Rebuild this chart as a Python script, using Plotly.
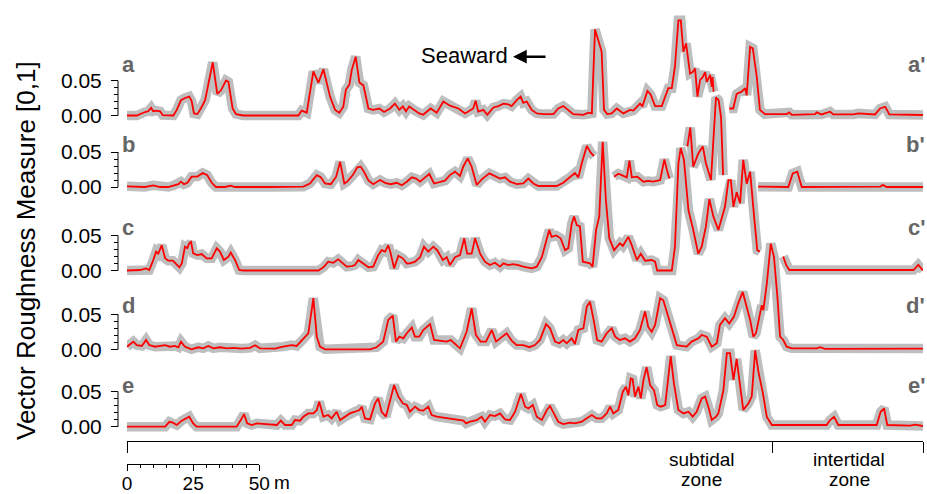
import plotly.graph_objects as go

# ---------------- data (distance along transect in m, VRM value) ----------------
profile_labels = ["a", "b", "c", "d", "e"]
profile_labels_end = ["a'", "b'", "c'", "d'", "e'"]

dist_a = [0, 3.7, 6.8, 8.0, 9.1, 9.9, 11.0, 12.5, 13.5, 17.5, 18.8, 20.4, 21.9, 23.5, 24.4, 25.3, 26.6, 27.9, 29.5, 32.4,
          34.1, 35.5, 37.4, 38.3, 39.9, 41.2, 43.9, 64.7, 66.0, 67.9, 70.4, 72.3, 74.2, 76.7, 78.6, 80.2, 81.7, 82.7, 84.0,
          84.9, 86.4, 87.8, 89.3, 91.2, 93.0, 95.3, 97.1, 99.4, 101.2, 102.9, 104.2, 105.4, 106.6, 108.8, 110.4, 111.9,
          114.7, 117.0, 119.5, 122.0, 125.2, 127.7, 130.8, 131.7, 132.7, 134.6, 136.1, 138.4, 140.3, 142.2, 144.0, 145.3,
          147.2, 148.7, 149.7, 151.0, 152.9, 154.8, 157.3, 161.1, 162.9, 164.8, 166.7, 168.6, 172.4, 174.3, 175.6, 176.8,
          178.4, 179.3, 180.2, 181.4, 183.1, 185.0, 187.5, 190.0, 191.3, 193.8, 194.7, 196.6, 197.8, 199.5, 202.0, 204.5,
          205.8, 207.0, 208.3, 209.2, 210.2, 211.2, 212.7, 213.7, 214.6, 215.5, 216.5, 217.5, 218.4, 219.0, 220.3, 220.9,
          221.2, 221.6, 224.5, 227.5, 229.0, 230.3, 232.2, 233.5, 234.1, 235.4, 236.4, 237.9, 239.1, 241.0, 249.2, 250.2,
          251.1, 259.9, 260.6, 262.4, 265.6, 266.8, 274.4, 276.3, 282.6, 284.5, 286.4, 288.0, 300.7]
vrm_a = [0, 0, 0.005, 0.006, 0.011, 0.006, 0.007, 0.006, 0.0005, 0, 0.008, 0.022, 0.025, 0.027, 0.021, 0.003, 0.002, 0.010,
         0.022, 0.076, 0.031, 0.036, 0.050, 0.048, 0.010, 0.002, 0, 0, 0.007, 0.004, 0.063, 0.047, 0.066, 0.027, 0.008,
         0.004, 0.0126, 0.037, 0.044, 0.065, 0.084, 0.047, 0.043, 0.010, 0.008, 0.010, 0.005, 0.010, 0.017, 0.008, 0.013,
         0.006, 0.013, 0.007, 0.003, 0.001, 0.010, 0.004, 0.020, 0.014, 0.010, 0.003, 0.010, 0.021, 0.0055, 0.008, 0.001,
         0.0115, 0.0135, 0.017, 0.016, 0.0135, 0.022, 0.027, 0.018, 0.020, 0.008, 0.003, 0.002, 0.002, 0.010, 0.0135,
         0.008, 0.002, 0.001, 0.004, 0.003, 0.123, 0.103, 0.091, 0.008, 0.002, 0.003, 0.010, 0.003, 0.008, 0.007, 0.017,
         0.013, 0.035, 0.030, 0.0135, 0.0135, 0.039, 0.039, 0.070, 0.136, 0.136, 0.091, 0.103, 0.060, 0.062, 0.067, 0.027,
         0.051, 0.055, 0.062, 0.048, 0.058, 0.041, 0.055, 0.034, None, 0.010, 0.010, 0.031, 0.034, 0.039, 0.029, 0.098,
         0.096, 0.055, 0.008, 0.002, 0.002, 0.0045, 0.001, 0.002, 0.0045, 0.0015, 0.0055, 0.0015, 0.0015, 0.003, 0.0015,
         0.010, 0.0125, 0.0015, 0.0007]

dist_b = [0, 3.7, 6.8, 9.9, 12.5, 15.6, 17.5, 19.4, 20.4, 21.5, 22.8, 24.4, 26.6, 28.6, 30.3, 32.0, 33.6, 37.0, 39.2, 40.8,
          54.0, 61.6, 66.6, 69.1, 71.7, 73.2, 74.8, 77.0, 79.0, 80.5, 82.1, 83.2, 85.3, 87.0, 88.3, 89.5, 91.2, 93.0, 95.6,
          97.5, 99.6, 101.9, 103.8, 105.7, 107.6, 109.2, 110.7, 112.6, 114.2, 116.0, 118.2, 120.1, 122.0, 123.9, 125.8,
          127.0, 128.7, 130.2, 132.1, 134.0, 136.9, 139.0, 140.9, 142.8, 144.7, 147.2, 149.7, 151.6, 153.5, 155.4, 162.3,
          164.8, 167.4, 169.2, 170.5, 171.8, 173.7, 175.2, 176.4, 180.0, 184.0, 185.6, 186.9, 188.8, 189.8, 190.7, 192.8,
          195.1, 196.9, 198.8, 201.4, 203.0, 204.1, 204.9, 208.0, 211.7, 212.8, 213.9, 215.8, 217.5, 218.7, 220.6, 222.5,
          223.5, 224.4, 225.2, 230.0, 238.4, 249.8, 251.5, 253.2, 254.9, 284.5, 285.5, 287.0, 300.7]
vrm_b = [0.001, 0, 0, 0.0024, 0, 0, 0.002, 0.004, 0.0076, 0.004, 0.006, 0.0147, 0.015, 0.020, 0.017, 0.006, 0, 0, 0.002, 0,
         0, 0.0005, 0.0005, 0.005, 0.017, 0.014, 0.005, 0.004, 0.0147, 0.036, 0.005, 0.0076, 0.017, 0.028, 0.029, 0.022,
         0.0095, 0.004, 0.010, 0.006, 0.004, 0.006, 0.0024, 0.0076, 0.0138, 0.012, 0.0076, 0.0138, 0.0186, 0.005, 0.0076,
         0.009, 0.017, 0.0219, 0.0157, 0.029, 0.041, 0.029, 0.003, 0.011, 0.0195, 0.0157, 0.012, 0.0138, 0.0076, 0.004,
         0.005, 0.012, 0.005, 0.0014, 0.0014, 0.006, 0.0138, 0.020, 0.0138, 0.034, 0.0586, 0.049, 0.044, None, 0.0147,
         0.019, 0.017, 0.0138, 0.0376, 0.0138, 0.0147, 0.0076, 0.0086, 0.0076, 0.010, 0.0395, 0.022, 0.012, None, 0.058,
         0.085, 0.029, 0.048, 0.058, 0.034, 0.010, 0.128, 0.124, 0.10, 0.017, None, 0.0005, 0, 0.0195, 0.022, 0, 0.0005,
         0.003, 0, 0]

dist_c = [0, 4.9, 7.2, 8.4, 9.7, 11.0, 11.8, 13.1, 14.4, 15.6, 17.3, 18.8, 19.8, 20.7, 21.9, 22.8, 23.5, 24.2, 25.0, 26.6,
          28.2, 30.1, 32.0, 33.9, 35.1, 36.6, 38.3, 39.2, 40.8, 42.4, 43.9, 72.3, 74.2, 76.0, 77.9, 79.8, 81.7, 83.0, 84.9,
          86.1, 87.4, 89.3, 91.2, 93.0, 94.9, 96.2, 97.5, 98.7, 99.6, 100.9, 102.5, 104.2, 105.7, 106.9, 108.8, 110.7,
          112.2, 113.8, 115.7, 117.2, 119.3, 120.8, 122.0, 123.9, 125.8, 127.4, 128.5, 130.2, 131.5, 133.4, 135.2, 137.1,
          139.0, 140.9, 142.2, 144.0, 145.9, 147.8, 149.7, 152.9, 154.8, 156.7, 159.5, 160.4, 162.1, 163.8, 165.5, 166.7,
          168.0, 168.9, 169.9, 171.1, 172.2, 174.9, 175.9, 177.2, 178.4, 179.7, 180.9, 182.2, 184.0, 186.2, 187.3, 189.4,
          190.7, 192.6, 194.1, 195.7, 198.2, 199.5, 200.3, 205.8, 207.0, 208.3, 209.2, 210.4, 212.1, 213.9, 215.8, 217.1,
          218.7, 220.0, 221.5, 223.4, 225.9, 227.2, 228.1, 229.1, 230.3, 231.6, 232.8, 234.1, 235.4, 236.9, 238.1, 239.1,
          243.0, 247.9, 249.0, 250.2, 297.1, 298.9, 300.7]
vrm_c = [0, 0.0007, 0.003, 0.0007, 0.0126, 0.027, 0.024, 0.036, 0.0174, 0.014, 0.014, 0.0078, 0.0045, 0.010, 0.034, 0.032,
         0.039, 0.041, 0.0245, 0.022, 0.0235, 0.0174, 0.0174, 0.0317, 0.027, 0.015, 0.0198, 0.0255, 0.015, 0.0007, 0, 0,
         0.0045, 0.0126, 0.011, 0.016, 0.010, 0.0055, 0.0064, 0.0078, 0.015, 0.010, 0.0045, 0.0055, 0.022, 0.029, 0.027,
         0.036, 0.0245, 0.003, 0.021, 0.0174, 0.010, 0.0102, 0.0126, 0.019, 0.034, 0.027, 0.034, 0.029, 0.015, 0.019,
         0.0078, 0.019, 0.022, 0.046, 0.024, 0.024, 0.046, 0.024, 0.0126, 0.0078, 0.011, 0.0055, 0.0102, 0.0078, 0.009,
         0.0078, 0.0055, 0.003, 0.0055, 0.019, 0.058, 0.048, 0.050, 0.046, 0.029, 0.032, 0.067, 0.077, 0.065, 0.063,
         0.0126, 0.0102, 0.0055, 0.058, 0.077, 0.184, 0.101, 0.046, 0.029, 0.039, 0.035, 0.048, 0.036, 0.015, 0.024,
         0.014, 0.015, 0.0126, 0, 0, 0.034, 0.153, 0.175, 0.158, 0.086, 0.058, 0.024, 0.034, 0.063, 0.102, 0.077, 0.058,
         0.091, 0.129, 0.129, 0.091, 0.112, 0.096, 0.158, 0.124, 0.141, 0.077, 0.029, 0.027, None, 0.020, 0.008, 0.0007,
         0.0007, 0.008, 0]

dist_d = [0, 1.1, 2.4, 3.7, 5.6, 7.2, 8.4, 10.6, 12.5, 14.4, 16.2, 18.1, 19.4, 20.4, 21.9, 24.4, 26.9, 28.8, 30.7, 32.6,
          35.1, 37.7, 40.2, 43.3, 46.5, 48.4, 50.2, 55.9, 59.0, 62.2, 64.1, 66.6, 68.5, 70.4, 71.7, 72.9, 74.8, 91.8, 94.3,
          96.8, 98.7, 100.4, 101.6, 102.9, 104.4, 105.7, 107.6, 108.8, 110.4, 111.9, 113.2, 114.5, 116.0, 118.2, 120.8,
          122.3, 123.9, 125.8, 128.3, 130.2, 131.8, 133.6, 135.6, 137.8, 139.4, 141.6, 143.4, 145.3, 147.2, 149.7, 152.0,
          154.1, 156.0, 158.3, 159.8, 161.7, 163.3, 164.8, 166.1, 168.0, 169.2, 170.5, 172.4, 173.7, 174.9, 176.4, 177.6,
          179.3, 181.2, 183.1, 184.4, 186.2, 188.1, 190.0, 191.9, 193.8, 195.7, 196.9, 198.2, 199.5, 201.4, 202.6, 204.5,
          205.8, 207.7, 211.4, 213.3, 215.9, 217.1, 219.0, 220.9, 222.8, 224.0, 225.9, 227.5, 229.3, 230.9, 232.6, 234.1,
          235.4, 236.6, 237.6, 238.9, 239.8, 240.4, 241.7, 243.2, 244.4, 245.7, 246.7, 247.9, 249.2, 251.1, 260.6, 261.8,
          263.7, 300.7]
vrm_d = [0.0037, 0.0076, 0.011, 0.006, 0.0048, 0.0133, 0.006, 0.0037, 0.0048, 0.006, 0.0037, 0.0048, 0.0029, 0.011,
         0.0037, 0, 0.0029, 0.0014, 0.0048, 0.0014, 0.0029, 0.0014, 0.002, 0.001, 0.002, 0.0057, 0.0014, 0.001, 0.0038,
         0.006, 0.0048, 0.0143, 0.0229, 0.073, 0.018, 0.0038, 0, 0, 0.0029, 0.011, 0.042, 0.048, 0.011, 0.018, 0.0157,
         0.0229, 0.031, 0.018, 0.018, 0.0276, 0.032, 0.036, 0.0133, 0.0124, 0.011, 0.0133, 0.0076, 0.0014, 0.025, 0.0586,
         0.0205, 0.011, 0.011, 0.0276, 0.011, 0.017, 0.023, 0.0124, 0.006, 0.006, 0.003, 0.006, 0.0133, 0.036, 0.030,
         0.011, 0.0086, 0.0133, 0.0086, 0.0157, 0.0076, 0.0276, 0.030, 0.061, 0.068, 0.0395, 0.0133, 0.011, 0.023, 0.030,
         0.0181, 0.0133, 0.0157, 0.011, 0.0157, 0.0276, 0.054, 0.032, 0.025, 0.0348, 0.073, 0.070, 0.0467, 0.030, 0.006,
         0.0038, 0.011, 0.0157, 0.0205, 0.018, 0.0038, 0.0086, 0.0348, 0.0443, 0.037, 0.0467, 0.0657, 0.082, 0.061,
         0.042, 0.018, 0.023, 0.0467, 0.063, 0.056, 0.094, 0.151, 0.132, 0.075, 0.018, 0.0133, 0.0038, 0.0014, 0.0014,
         0.0029, 0.0005, 0.001]

dist_e = [0, 14.4, 16.0, 17.3, 18.8, 20.7, 23.5, 25.0, 26.3, 41.4, 43.0, 44.2, 45.4, 47.1, 49.0, 51.5, 54.0, 56.6, 58.1,
          59.7, 62.2, 63.5, 65.4, 66.6, 68.5, 70.4, 71.7, 72.6, 74.2, 76.0, 77.3, 79.2, 80.5, 82.4, 84.2, 86.1, 87.8, 88.7,
          89.9, 91.8, 93.7, 94.9, 96.2, 97.8, 99.4, 100.9, 102.5, 104.2, 105.7, 106.9, 108.8, 110.4, 111.9, 113.8, 115.1,
          117.0, 119.5, 121.4, 123.3, 125.2, 127.1, 128.1, 129.6, 132.1, 134.0, 135.2, 137.1, 139.0, 140.9, 142.8, 144.7,
          146.6, 148.8, 150.4, 151.6, 153.3, 154.8, 156.7, 158.6, 159.8, 161.3, 162.9, 164.8, 167.4, 169.2, 171.8, 173.7,
          175.6, 177.4, 179.3, 181.2, 182.5, 183.7, 185.6, 187.3, 188.5, 189.4, 190.3, 191.0, 191.9, 193.2, 194.1, 195.1,
          196.3, 197.6, 199.1, 200.3, 201.6, 203.3, 204.5, 205.4, 206.6, 208.3, 210.2, 212.1, 213.7, 215.2, 217.1, 218.4,
          219.6, 220.9, 222.5, 223.4, 225.3, 226.6, 227.8, 229.1, 230.3, 231.8, 232.8, 234.7, 236.0, 237.3, 238.5, 240.2,
          241.7, 243.6, 264.3, 265.6, 267.1, 268.7, 283.2, 284.7, 286.0, 287.2, 295.8, 297.7, 300.7]
vrm_e = [0, 0, 0.007, 0.0057, 0.0024, 0.0086, 0.0143, 0.0048, 0, 0, 0.0095, 0.018, 0.0048, 0.0024, 0.0048, 0.0038, 0.0038,
         0.0024, 0.0086, 0.0024, 0.0024, 0.0095, 0.0086, 0.0143, 0.019, 0.019, 0.0238, 0.0357, 0.0143, 0.0167, 0.0119,
         0.0214, 0.0095, 0.0143, 0.019, 0.0214, 0.0238, 0.0286, 0.0119, 0.0105, 0.0333, 0.0405, 0.0214, 0.0143, 0.038,
         0.0595, 0.043, 0.0333, 0.031, 0.0214, 0.0286, 0.0238, 0.0229, 0.0286, 0.0167, 0.0143, 0.0129, 0.0119, 0.011,
         0.0095, 0.0086, 0.0048, 0.0071, 0.0095, 0.0143, 0.0071, 0.0167, 0.0152, 0.019, 0.0105, 0.0095, 0.0214, 0.0467,
         0.0286, 0.026, 0.031, 0.0143, 0.0095, 0.0238, 0.0295, 0.019, 0.0071, 0.0038, 0.0057, 0.0048, 0.0071, 0.0119,
         0.0167, 0.0119, 0.0119, 0.019, 0.0286, 0.019, 0.0238, 0.050, 0.057, 0.045, 0.069, 0.068, 0.043, 0.057, 0.0405,
         0.067, 0.085, 0.0595, 0.052, 0.031, 0.0286, 0.031, 0.067, 0.101, 0.062, 0.0238, 0.019, 0.0214, 0.0143, 0.0214,
         0.0405, 0.043, 0.0286, 0.0095, 0.0143, 0.019, 0.052, 0.105, 0.105, 0.067, 0.097, 0.057, 0.024, 0.033, 0.043,
         0.109, 0.079, 0.048, 0.014, 0.0024, 0.0024, 0.0095, 0.014, 0.0024, 0.0024, 0.0214, 0.026, 0.0024, 0.0014,
         0.003, 0.001]

y_tick_vals = [0, 0.05]
y_tick_text = ["0.00", "0.05"]
y_minor_vals = [0.01, 0.02, 0.03, 0.04]
zone_bounds = [0, 243.7, 300.7]          # m: start, subtidal/intertidal boundary, end
zone_names = [("subtidal", "zone"), ("intertidal", "zone")]
zone_label_pos = [217.2, 272.8]          # m: centre of each zone label
scale_ticks = [0, 25, 50]
scale_tick_text = ["0", "25", "50"]
scale_minor = [5, 10, 15, 20, 30, 35, 40, 45]

profiles = [(dist_a, vrm_a), (dist_b, vrm_b), (dist_c, vrm_c), (dist_d, vrm_d), (dist_e, vrm_e)]
for d, v in profiles:
    assert len(d) == len(v), (len(d), len(v))

# ---------------- layout geometry (pixels) ----------------
W, H = 927, 494
PL, PR, PT, PB = 118, 923, 2, 464          # paper area
DATA_L = 127                               # left end of data axis
AXIS_B = 441                               # bracket axis / bottom of traces area
BASE = [115.5, 187.0, 270.5, 349.3, 426.7] # pixel row of zero for each profile
PX_PER_UNIT = 700.0
X_MAX = zone_bounds[-1]
PX_PER_M = (PR - DATA_L) / X_MAX
PW, PH = PR - PL, PB - PT

def px_x(px):
    return (px - PL) / PW

def px_y(py):
    return (PB - py) / PH

FONT = "Liberation Sans, Arial, Helvetica, sans-serif"
GREY = "#BEBEBE"
RED = "#FF0000"
LABEL_GREY = "#666666"

fig = go.Figure()
yrefs = ["y", "y2", "y3", "y4", "y5"]
for (d, v), yr in zip(profiles, yrefs):
    fig.add_trace(go.Scatter(x=d, y=v, yaxis=yr, mode="lines", line=dict(color=GREY, width=9.5),
                             hoverinfo="skip", showlegend=False))
    fig.add_trace(go.Scatter(x=d, y=v, yaxis=yr, mode="lines", line=dict(color=RED, width=1.8),
                             hoverinfo="skip", showlegend=False))
# empty trace so the scale-bar axis gets a subplot
fig.add_trace(go.Scatter(x=[None], y=[None], xaxis="x2", yaxis="y", showlegend=False, hoverinfo="skip"))

y_dom0 = px_y(AXIS_B)
span = (AXIS_B - PT) / PX_PER_UNIT
layout_axes = {}
for k, (yr, b) in enumerate(zip(yrefs, BASE)):
    lo = -(AXIS_B - b) / PX_PER_UNIT
    ax = dict(range=[lo, lo + span], anchor="free", position=0, showgrid=False, zeroline=False,
              showline=False, tickmode="array", tickvals=y_tick_vals, ticktext=y_tick_text,
              ticks="outside", ticklen=7, tickwidth=1, tickcolor="black",
              minor=dict(tickmode="array", tickvals=y_minor_vals, ticks="outside", ticklen=4,
                         tickwidth=1, tickcolor="black"),
              tickfont=dict(size=21, color="black", family=FONT), ticklabelstandoff=5,
              fixedrange=True)
    if k == 0:
        ax["domain"] = [y_dom0, 1]
    else:
        ax["overlaying"] = "y"
    name = "yaxis" if k == 0 else f"yaxis{k + 1}"
    layout_axes[name] = ax

x_dom0 = px_x(DATA_L)
layout_axes["xaxis"] = dict(domain=[x_dom0, 1], range=[0, X_MAX], anchor="y", showgrid=False, zeroline=False,
                            showline=True, linecolor="black", linewidth=1, ticks="outside",
                            tickmode="array", tickvals=zone_bounds, ticklen=11, tickwidth=1,
                            tickcolor="black", showticklabels=False, fixedrange=True)
layout_axes["xaxis2"] = dict(domain=[x_dom0, px_x(DATA_L + 50 * PX_PER_M)], range=[0, 50], anchor="free",
                             position=0, showgrid=False, zeroline=False, showline=True, linecolor="black",
                             linewidth=1, ticks="outside", tickmode="array", tickvals=scale_ticks,
                             ticktext=scale_tick_text, ticklen=6, tickwidth=1, tickcolor="black",
                             minor=dict(tickmode="array", tickvals=scale_minor, ticks="outside", ticklen=3,
                                        tickwidth=1, tickcolor="black"),
                             tickfont=dict(size=19, color="black", family=FONT), ticklabelstandoff=-4,
                             fixedrange=True)

shapes = [dict(type="line", xref="paper", x0=0, x1=0, yref=yr, y0=y_tick_vals[0], y1=y_tick_vals[-1],
               line=dict(color="black", width=1)) for yr in yrefs]

annotations = []
LABEL_BASELINE = [72, 152, 235, 313, 393]
for lab, lab2, bl in zip(profile_labels, profile_labels_end, LABEL_BASELINE):
    cy = px_y(bl - 0.35 * 22)
    annotations.append(dict(text=lab, xref="paper", yref="paper", x=px_x(120), y=cy, xanchor="left",
                            yanchor="middle", showarrow=False,
                            font=dict(size=22, color=LABEL_GREY, family=FONT, weight="bold")))
    annotations.append(dict(text=lab2, xref="paper", yref="paper", x=px_x(927), y=cy, xanchor="right",
                            yanchor="middle", showarrow=False,
                            font=dict(size=22, color=LABEL_GREY, family=FONT, weight="bold")))

# y title
annotations.append(dict(text="Vector Roughness Measure [0,1]", xref="paper", yref="paper", x=px_x(26),
                        y=px_y(251), textangle=-90, xanchor="center", yanchor="middle", showarrow=False,
                        font=dict(size=26, color="black", family=FONT)))
# Seaward + arrow
annotations.append(dict(text="Seaward", xref="x", yref="paper", x=(510 - DATA_L) / PX_PER_M,
                        y=px_y(63.3 - 0.35 * 22), xanchor="right", yanchor="middle", showarrow=False,
                        font=dict(size=22, color="black", family=FONT)))
annotations.append(dict(text="", xref="x", yref="paper", x=(513 - DATA_L) / PX_PER_M, y=px_y(56.7),
                        axref="x", ax=(547 - DATA_L) / PX_PER_M, ayref="pixel", ay=0, showarrow=True,
                        arrowhead=2, arrowsize=1.1, arrowwidth=2.5, arrowcolor="black", standoff=0))
# zone labels
for (l1, l2), cx in zip(zone_names, zone_label_pos):
    annotations.append(dict(text=l1, xref="x", yref="paper", x=cx, y=px_y(466 - 0.35 * 19), xanchor="center",
                            yanchor="middle", showarrow=False, font=dict(size=19, color="black", family=FONT)))
    annotations.append(dict(text=l2, xref="x", yref="paper", x=cx, y=px_y(486 - 0.35 * 19), xanchor="center",
                            yanchor="middle", showarrow=False, font=dict(size=19, color="black", family=FONT)))
# unit after the scale bar's last label
annotations.append(dict(text="m", xref="x2", yref="paper", x=50, y=px_y(489 - 0.35 * 19), xanchor="left",
                        xshift=13, yanchor="middle", showarrow=False,
                        font=dict(size=19, color="black", family=FONT)))

fig.update_layout(width=W, height=H, margin=dict(l=PL, r=W - PR, t=PT, b=H - PB, autoexpand=False),
                  paper_bgcolor="white", plot_bgcolor="rgba(0,0,0,0)", showlegend=False, hovermode=False,
                  font=dict(family=FONT, color="black"), shapes=shapes, annotations=annotations,
                  **layout_axes)

fig.write_html("out.html", config={"displayModeBar": False},
               post_script="document.body.style.margin='0px';")
